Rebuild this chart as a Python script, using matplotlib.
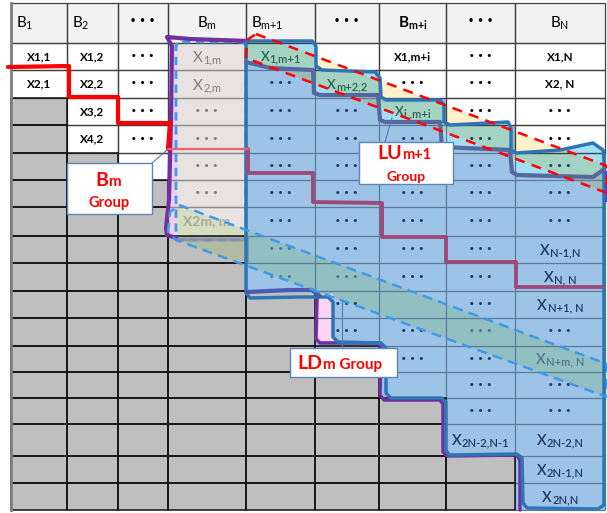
import re
import matplotlib
matplotlib.use("Agg")
import matplotlib.pyplot as plt
from matplotlib.patches import Rectangle, Polygon, FancyBboxPatch
from matplotlib.colors import to_rgb
from matplotlib.path import Path

plt.rcParams['font.family'] = ['Lato', 'DejaVu Sans']
plt.rcParams['mathtext.default'] = 'regular'

# ---- table content ----
D = "• • •"
headers = ["B$_1$", "B$_2$", D, "B$_m$", "B$_{m+1}$", D, "B$_{m+i}$", D, "B$_N$"]

cell_text = [
    ["X1,1", "X1,2", D, "X$_{1,m}$", "X$_{1,m+1}$", "", "X1,m+i", D, "X1,N"],
    ["X2,1", "X2,2", D, "X$_{2,m}$", D, "X$_{m+2,2}$", D, D, "X2, N"],
    ["", "X3,2", D, D, D, D, "X$_{i ,m+i}$", D, D],
    ["", "X4,2", D, D, D, D, D, D, D],
    ["", "", D, D, D, D, D, D, D],
    ["", "", "", D, D, D, D, D, D],
    ["", "", "", "X2m, m", D, D, D, D, D],
    ["", "", "", "", D, D, D, D, "X$_{N-1,N}$"],
    ["", "", "", "", D, D, D, D, "X$_{N, N}$"],
    ["", "", "", "", "", D, "", D, "X$_{N+1, N}$"],
    ["", "", "", "", "", D, D, D, D],
    ["", "", "", "", "", "", D, D, "X$_{N+m, N}$"],
    ["", "", "", "", "", "", "", D, D],
    ["", "", "", "", "", "", "", D, D],
    ["", "", "", "", "", "", "", "X$_{2N-2,N-1}$", "X$_{2N-2,N}$"],
    ["", "", "", "", "", "", "", "", "X$_{2N-1,N}$"],
    ["", "", "", "", "", "", "", "", "X$_{2N,N}$"],
]

# w = white, p = B_m column, b = blue (LU/LD), g = grey (unused)
cell_state = [
    "wwwpbwwww", "wwwpbbwww", "gwwpbbbww", "gwwpbbbbw", "ggwpbbbbb",
    "gggpbbbbb", "gggpbbbbb", "ggggbbbbb", "ggggbbbbb", "gggggbbbb",
    "gggggbbbb", "ggggggbbb", "ggggggbbb", "gggggggbb", "gggggggbb",
    "ggggggggb", "ggggggggb",
]
diag_cells = [(0, 4), (1, 5), (2, 6)]

# ---- layout (pixels) ----
col_edges = [11, 67, 118, 168, 246, 315, 379, 446, 515, 605]
row_edges = [3, 43, 70, 98, 125, 153, 180, 207, 236, 263, 291, 318, 346,
             372, 398, 424, 456, 483, 510]
header_left = [True, True, False, False, True, False, False, False, False]

fill = {'h': '#f2f2f2', 'w': '#ffffff', 'p': '#e9e2e2', 'b': '#9dc3e6', 'g': '#bfbfbf'}
edge = {'h': ('#404040', 0.9), 'w': ('#404040', 0.9), 'p': ('#8c8c8c', 0.9),
        'b': ('#5a7a98', 0.8), 'g': ('#111111', 1.1)}

lu_band = [(256, 34), (607, 166), (607, 193), (246, 58), (247, 40)]
ld_band = [(179, 205), (607, 364), (607, 397), (176, 240), (168, 232), (170, 212)]
lu_top = [(246, 41), (312, 41), (316, 46), (316, 66), (322, 70), (375, 72), (380, 78),
          (381, 97), (386, 100), (440, 100), (444, 105), (444, 122), (450, 125),
          (508, 122), (511, 128), (511, 150), (516, 153), (560, 150), (593, 143),
          (603, 150)]
lu_bottom = [(246, 62), (270, 68), (313, 70), (314, 93), (320, 95), (378, 95),
             (380, 120), (385, 122), (440, 122), (442, 147), (510, 150), (512, 172),
             (517, 175), (593, 177), (603, 170)]


def tight(t):
    # no operator / punctuation spacing inside math
    def fix(m):
        s = m.group(0)
        for ch in ',+-':
            s = s.replace(ch, '{' + ch + '}')
        return s
    return re.sub(r'\$[^$]*\$', fix, t)


def mult(c1, c2):
    return tuple(a * b for a, b in zip(to_rgb(c1), to_rgb(c2)))


fig = plt.figure(figsize=(6.07, 5.13), dpi=100)
ax = fig.add_axes([0, 0, 1, 1])
ax.set_xlim(0, 607)
ax.set_ylim(513, 0)
ax.axis('off')
renderer = fig.canvas.get_renderer()

# all cells incl. header
cells = []
for c in range(9):
    cells.append((0, c, 'h'))
for r, row in enumerate(cell_state):
    for c, s in enumerate(row):
        cells.append((r + 1, c, s))


def rect_of(r, c):
    x0, x1 = col_edges[c], col_edges[c + 1]
    y0, y1 = row_edges[r], row_edges[r + 1]
    return x0, y0, x1 - x0, y1 - y0


for r, c, s in cells:
    x, y, w, h = rect_of(r, c)
    ax.add_patch(Rectangle((x, y), w, h, facecolor=fill[s], edgecolor='none', zorder=1))


# band overlays, coloured per cell (multiply look)
def band_fill(pts, band_col, z):
    bx = [p[0] for p in pts]
    by = [p[1] for p in pts]
    for r, c, s in cells:
        x, y, w, h = rect_of(r, c)
        if x > max(bx) or x + w < min(bx) or y > max(by) or y + h < min(by):
            continue
        clip = Rectangle((x, y), w, h, transform=ax.transData)
        p = Polygon(pts, closed=True, facecolor=mult(fill[s], band_col),
                    edgecolor='none', zorder=z)
        ax.add_patch(p)
        p.set_clip_path(clip)


band_fill(lu_band, '#fff2cc', 1.2)
diag_region = lu_top + [(604, 150), (604, 168)] + lu_bottom[::-1]
ax.add_patch(Polygon(diag_region, closed=True, facecolor='#a4def5',
                     edgecolor='none', zorder=1.3))
green = Polygon(lu_band, closed=True, facecolor=mult('#a4def5', '#fff2cc'),
                edgecolor='none', zorder=1.4)
ax.add_patch(green)
green.set_clip_path(Polygon(diag_region, transform=ax.transData))
band_fill(ld_band, '#ebfad7', 1.5)

# pink strips
ax.add_patch(Rectangle((170, 44), 7, 192, facecolor='#f3cdf0', edgecolor='none', zorder=1.6))
ax.add_patch(Rectangle((317, 294), 16, 47, facecolor='#fcd5f5', edgecolor='none', zorder=1.6))

# grid lines
for order in ['b', 'p', 'h', 'w', 'g']:
    for r, c, s in cells:
        if s != order:
            continue
        x, y, w, h = rect_of(r, c)
        ec, lw = edge[s]
        ax.add_patch(Rectangle((x, y), w, h, facecolor='none', edgecolor=ec, lw=lw, zorder=2))
ax.plot([11, 11], [3, 510], color='#7f7f7f', lw=2, zorder=2.1)

# header text
for c, t in enumerate(headers):
    x, y, w, h = rect_of(0, c)
    bold = c == 6
    if t == D:
        ax.text(x + w / 2, y + h / 2 - 2, t, ha='center', va='center', fontsize=7,
                fontweight='bold', family='DejaVu Sans', zorder=3)
    elif header_left[c]:
        ax.text(x + 5, y + h / 2, tight(t), ha='left', va='center', fontsize=11, zorder=3)
    else:
        ax.text(x + w / 2, y + h / 2, tight(t), ha='center', va='center', fontsize=11,
                fontweight='bold' if bold else 'normal', zorder=3)


def sub_label(cx, cy, main, sub, fs, fs_sub, **kw):
    # big "X" followed by a smaller, slightly lowered index, centred on (cx, cy)
    base = cy + fs * 100 / 72 * 0.72 / 2
    t1 = ax.text(0, base, main, ha='left', va='baseline', fontsize=fs, zorder=3, **kw)
    t2 = ax.text(0, base + 1.5, sub, ha='left', va='baseline', fontsize=fs_sub,
                 zorder=3, **kw)
    w1 = t1.get_window_extent(renderer).width
    w2 = t2.get_window_extent(renderer).width
    x0 = cx - (w1 + w2) / 2
    t1.set_x(x0)
    t2.set_x(x0 + w1 + 0.5)


# cell text
ld_path = Path(ld_band)
for r, row in enumerate(cell_text):
    for c, t in enumerate(row):
        if not t:
            continue
        s = cell_state[r][c]
        x, y, w, h = rect_of(r + 1, c)
        cx, cy = x + w / 2, y + h / 2
        alpha = 0.55 if ld_path.contains_point((cx, cy)) else 1.0
        if (r, c) in diag_cells:
            col, fw, fs, fss = '#2f5f50', 'semibold', 9.5, 8
        elif s == 'w':
            col, fw, fs, fss = '#000000', 'bold', 8.5, 8.5
        elif s == 'p':
            col, fw, fs, fss = '#7f7f7f', 'normal', 11, 8
        else:
            col, fw, fs, fss = '#1f3864', 'semibold', 10.5, 8
        if t == D:
            ax.text(cx, cy, t, ha='center', va='center', fontsize=6.5, color=col,
                    fontweight='bold', family='DejaVu Sans', alpha=alpha, zorder=3)
            continue
        m = re.match(r'^(.*?)\$_\{(.*)\}\$$', t)
        if m:
            sub_label(cx, cy, m.group(1), m.group(2), fs, fss, color=col,
                      fontweight=fw, alpha=alpha)
        else:
            if s == 'p':
                fs, fw = 10, 'bold'
            ax.text(cx, cy, t, ha='center', va='center', fontsize=fs, color=col,
                    fontweight=fw, alpha=alpha, zorder=3)

# ---- overlay outlines ----
def line(pts, **kw):
    ax.plot([p[0] for p in pts], [p[1] for p in pts], solid_joinstyle='round',
            solid_capstyle='round', **kw)


# LU red dashed band
ax.add_patch(Polygon(lu_band, closed=True, facecolor='none', edgecolor='#ff0000',
                     lw=1.8, linestyle=(0, (4, 3)), zorder=5.5))
# LD blue dashed band
ax.add_patch(Polygon(ld_band, closed=True, facecolor='none', edgecolor='#3d9be9',
                     lw=1.8, linestyle=(0, (4, 2.5)), zorder=5.5))

# B_m group
ax.add_patch(FancyBboxPatch((176, 42), 70, 198, boxstyle='round,pad=0,rounding_size=6',
                            fill=False, edgecolor='#3d9be9', lw=2,
                            linestyle=(0, (3, 2)), zorder=5))
line([(248, 41), (190, 39), (167, 37), (172, 46), (171, 120), (169, 200), (166, 228),
      (167, 235), (176, 238)], color='#7030a0', lw=3, zorder=5)
line([(177, 239), (246, 239)], color='#8f8fa8', lw=2.5, alpha=0.8, zorder=5)
line([(247, 238), (247, 262)], color='#7d8db0', lw=3, alpha=0.8, zorder=5)

# LU/LD outer outline (light blue)
outer = lu_top + [(604, 160), (604, 505), (598, 509), (527, 508), (523, 503),
                  (522, 458), (517, 454), (449, 455), (446, 450), (446, 402),
                  (441, 398), (391, 398), (386, 393), (386, 348), (381, 343),
                  (338, 342), (333, 337), (333, 302), (328, 297), (300, 297),
                  (250, 298), (246, 293), (246, 41)]
line(outer, color='#2e75b6', lw=2.5, zorder=5.2)
# purple outline below
line([(318, 294), (317, 300), (316, 339), (320, 343), (378, 343), (381, 348),
      (380, 395), (384, 400), (440, 400), (443, 404), (443, 452), (447, 456),
      (517, 455), (520, 460), (520, 510)], color='#7030a0', lw=2.5, zorder=5.1)
line([(606, 172), (606, 200)], color='#7030a0', lw=2.5, zorder=5.1)
# LU lower boundary
line(lu_bottom, color='#56689e', lw=3, zorder=5.3)
# LD top boundary (dark blue)
line([(247, 292), (290, 290), (312, 290), (320, 296)], color='#4a5ab5', lw=3, zorder=5.3)

# red B_m boundary
line([(8, 67), (69, 66), (69, 97), (118, 97), (118, 123), (170, 123), (168, 149)],
     color='#ff0000', lw=3, zorder=6)
line([(168, 149), (248, 149)], color='#e8646e', lw=1.6, zorder=6)
# mauve LU_{m+1} boundary
line([(248, 149), (248, 173), (313, 173), (313, 202), (382, 203), (382, 237),
      (446, 237), (446, 262), (516, 262), (516, 287), (603, 287)],
     color='#9c4a7b', lw=2.8, zorder=5.4)

# ---- callout boxes ----
ptr = dict(color='#4f7fb0', lw=0.8, zorder=6.5)
line([(152, 163), (167, 150)], **ptr)
line([(385, 142), (392, 118)], **ptr)
line([(342, 348), (342, 300)], **ptr)

box = dict(facecolor='white', edgecolor='#5b86b8', lw=1, zorder=7)
ax.add_patch(Rectangle((67, 163), 85, 51, **box))
ax.add_patch(Rectangle((359, 142), 94, 42, **box))
ax.add_patch(Rectangle((290, 348), 107, 29, **box))

red = dict(color='#ff0000', fontweight='bold', va='baseline', zorder=8)
ax.text(108, 186, 'B', ha='right', fontsize=14, **red)
ax.text(108, 186, 'm', ha='left', fontsize=11, **red)
ax.text(109, 207, 'Group', ha='center', fontsize=10.5, **red)

ax.text(402, 159, 'LU', ha='right', fontsize=14, **red)
ax.text(402, 159, 'm+1', ha='left', fontsize=10.5, **red)
ax.text(406, 181, 'Group', ha='center', fontsize=10, **red)

ax.text(322, 369, 'LD', ha='right', fontsize=14, **red)
ax.text(323, 369, 'm Group', ha='left', fontsize=11, **red)

fig.savefig('out.png', dpi=100)
